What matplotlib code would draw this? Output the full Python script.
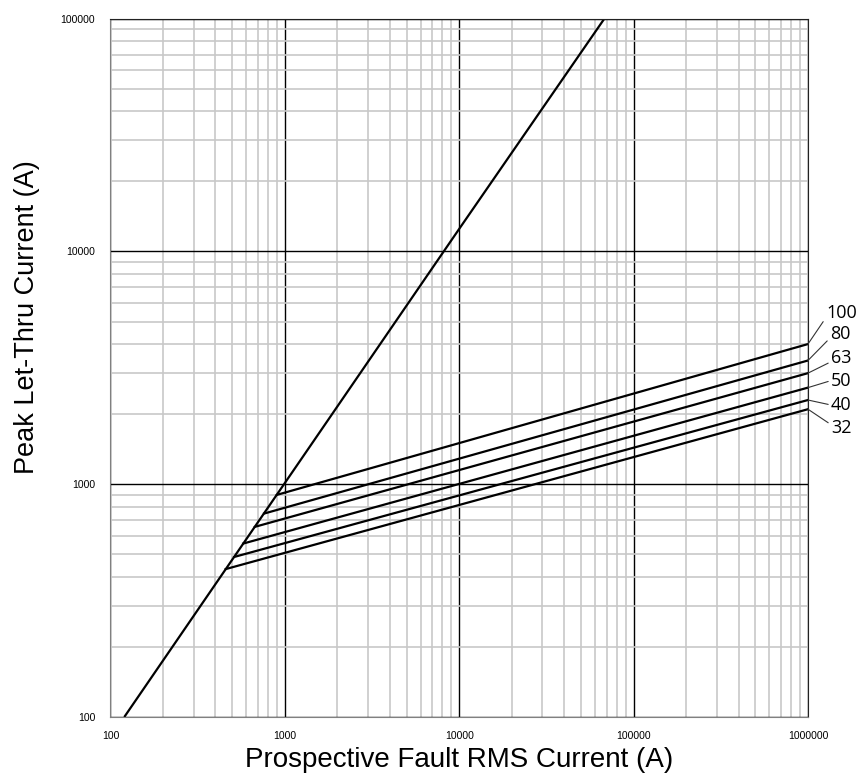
import matplotlib
matplotlib.use("Agg")
import matplotlib.pyplot as plt
from matplotlib.ticker import LogLocator, NullFormatter

# diagonal (no limitation) line
diag_x = [120, 10000, 68000]
diag_y = [100, 12500, 100000]

# fuse ratings and their cut-off lines: start on the diagonal, end at 1e6 A
ratings = ["100", "80", "63", "50", "40", "32"]
start_x = [900, 760, 673, 577, 512, 458]
start_y = [900, 748, 656, 556, 487, 432]
end_x = [1e6, 1e6, 1e6, 1e6, 1e6, 1e6]
end_y = [4000, 3400, 3000, 2600, 2300, 2100]

x_ticks = [100, 1000, 10000, 100000, 1000000]
y_ticks = [100, 1000, 10000, 100000]

fig = plt.figure(figsize=(8.61, 7.76), dpi=100)
ax = fig.add_axes([0.1283, 0.076, 0.8101, 0.900])

ax.set_xscale("log")
ax.set_yscale("log")
ax.set_xlim(100, 1e6)
ax.set_ylim(100, 1e5)

ax.xaxis.set_minor_locator(LogLocator(base=10, subs=range(2, 10)))
ax.yaxis.set_minor_locator(LogLocator(base=10, subs=range(2, 10)))
ax.xaxis.set_minor_formatter(NullFormatter())
ax.yaxis.set_minor_formatter(NullFormatter())
ax.grid(which="minor", color="#c8c8c8", lw=1.2)
ax.grid(which="major", color="black", lw=1.0)
ax.set_axisbelow(True)

ax.set_xticks(x_ticks, [str(v) for v in x_ticks])
ax.set_yticks(y_ticks, [str(v) for v in y_ticks])
ax.tick_params(which="both", length=0, labelsize=7.5)
ax.tick_params(axis="x", pad=10)
ax.tick_params(axis="y", pad=11)
for lab in ax.get_xticklabels() + ax.get_yticklabels():
    lab.set_family("Liberation Sans")

for side in ["left", "bottom"]:
    ax.spines[side].set_color("#808080")
for side in ["top", "right"]:
    ax.spines[side].set_color("#222222")

ax.plot(diag_x, diag_y, color="black", lw=1.6, solid_capstyle="butt")

# label offsets for the rating labels (pixels from line end)
offsets = [(18, 31), (22, 26), (23, 15), (23, 7), (23, -5), (23, -19)]
relpos = [(0, 0.25), (0, 0.3), (0, 0.3), (0, 0.5), (0, 0.5), (0, 0.7)]
for i, r in enumerate(ratings):
    ax.plot([start_x[i], end_x[i]], [start_y[i], end_y[i]], color="black", lw=1.6)
    ax.annotate(r, xy=(end_x[i], end_y[i]), xytext=offsets[i],
                textcoords="offset pixels", ha="left", va="center",
                fontsize=13, family="Open Sans", annotation_clip=False,
                arrowprops=dict(arrowstyle="-", color="#333333", lw=0.8,
                                shrinkA=0, shrinkB=0, relpos=relpos[i]))

ax.set_xlabel("Prospective Fault RMS Current (A)", fontsize=20,
              family="Liberation Sans", labelpad=4.5)
ax.set_ylabel("Peak Let-Thru Current (A)", fontsize=19.5,
              family="Liberation Sans")
ax.yaxis.set_label_coords(-0.101, 0.573)

fig.savefig("out.png", dpi=100)
